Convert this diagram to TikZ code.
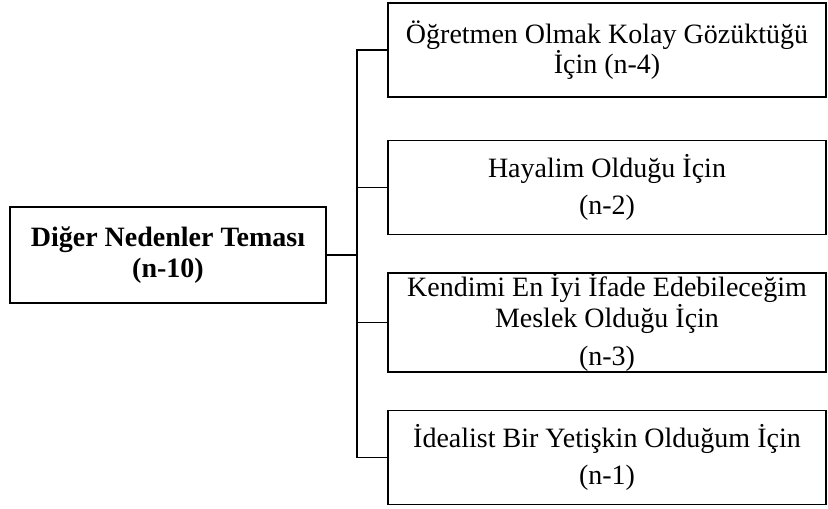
\documentclass[tikz,border=0pt]{standalone}
\usepackage{fontspec}
\setmainfont{Liberation Serif}
\begin{document}
\begin{tikzpicture}[x=1pt,y=-1pt,
  box/.style={draw,line width=1.6pt,inner sep=0pt,align=center,
    font=\fontsize{28}{25}\selectfont},
  mainbox/.style={box,minimum width=316pt,minimum height=96pt,
    font=\fontsize{28}{31}\selectfont\bfseries},
  reason/.style={box,minimum width=438pt,minimum height=94pt}]
\useasboundingbox (0,0) rectangle (828,509);
\node[mainbox] (main) at (168,255) {Diğer Nedenler Teması\\(n-10)};
\node[reason] (b1) at (607,50) {Öğretmen Olmak Kolay Gözüktüğü\\İçin (n-4)};
\node[reason] (b2) at (607,187.5) {Hayalim Olduğu İçin\\[11pt](n-2)};
\node[reason] (b3) at (607,322.5) {Kendimi En İyi İfade Edebileceğim\\[1pt]Meslek Olduğu İçin\\[12pt](n-3)};
\node[reason] (b4) at (607,457.5) {İdealist Bir Yetişkin Olduğum İçin\\[10pt](n-1)};
\coordinate (hub) at (357,255);
\draw[line width=1.6pt] (main.east) -- (hub);
\foreach \b in {b1,b2,b3,b4}
  \draw[line width=1.6pt] (hub) |- (\b.west);
\end{tikzpicture}
\end{document}
